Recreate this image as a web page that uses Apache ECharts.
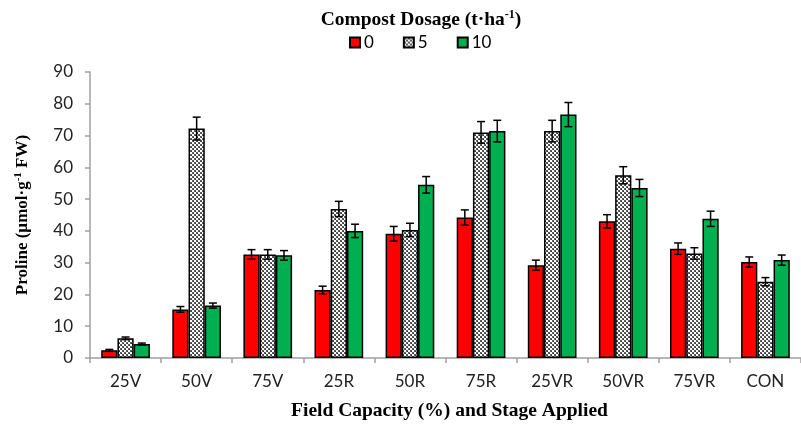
<!DOCTYPE html>
<html><head><meta charset="utf-8">
<script src="https://cdn.jsdelivr.net/npm/echarts@6/dist/echarts.min.js"></script>
<style>html,body{margin:0;padding:0;background:#fff}#c{width:801px;height:426px}</style>
</head><body><div id="c"></div>
<script>
var categories = ['25V','50V','75V','25R','50R','75R','25VR','50VR','75VR','CON'];
var seriesNames = ['0','5','10'];
var dose0  = [2.4, 15.3, 32.6, 21.4, 39.1, 44.2, 29.2, 43.0, 34.4, 30.2];
var dose5  = [6.2, 72.2, 32.6, 46.9, 40.3, 71.0, 71.4, 57.5, 32.9, 24.0];
var dose10 = [4.4, 16.5, 32.3, 40.0, 54.5, 71.4, 76.6, 53.5, 43.8, 30.8];
var err0  = [0.3, 0.9, 1.5, 1.2, 2.3, 2.4, 1.6, 2.1, 1.8, 1.6];
var err5  = [0.4, 3.6, 1.5, 2.4, 2.1, 3.4, 3.4, 2.7, 1.8, 1.3];
var err10 = [0.3, 0.8, 1.5, 2.1, 2.6, 3.4, 3.8, 2.7, 2.4, 1.6];
var yTicks = [0,10,20,30,40,50,60,70,80,90];

var values = [dose0, dose5, dose10];
var errors = [err0, err5, err10];

// hatched (checker) pattern
var pc = document.createElement('canvas');
pc.width = 4; pc.height = 4;
var px = pc.getContext('2d');
px.fillStyle = '#ffffff'; px.fillRect(0,0,4,4);
px.fillStyle = '#5e5e5e';
px.fillRect(0,0,2,2); px.fillRect(2,2,2,2);
px.fillStyle = '#333333';
px.fillRect(1,1,1,1); px.fillRect(3,3,1,1);
var hatch = {image: pc, repeat: 'repeat'};

var colors = ['#ff0000', hatch, '#00b050'];
var CAT_GAP = 0.315;

var chart = echarts.init(document.getElementById('c'), null, {renderer:'canvas'});
var series = [];
for (var s = 0; s < 3; s++) {
  series.push({
    name: seriesNames[s], type: 'bar', data: values[s],
    barGap: '0%', barCategoryGap: (CAT_GAP*100)+'%',
    itemStyle: {color: colors[s], borderColor: '#000', borderWidth: 1.5},
    emphasis: {disabled: true}, z: 2
  });
}
for (var s2 = 0; s2 < 3; s2++) {
  (function(si){
    var d = values[si].map(function(v,i){ return [i, v - errors[si][i], v + errors[si][i]]; });
    series.push({
      name: 'err'+si, type: 'custom', data: d, z: 5,
      renderItem: function(params, api){
        var idx = api.value(0);
        var band = api.size([1,0])[0];
        var bw = band*(1-CAT_GAP)/3;
        var c = api.coord([idx, api.value(2)]);
        var lo = api.coord([idx, api.value(1)]);
        var x = c[0] + (si-1)*bw;
        var cap = 4;
        return {type:'group', children:[
          {type:'line', shape:{x1:x,y1:c[1],x2:x,y2:lo[1]}, style:{stroke:'#000',lineWidth:1.5}},
          {type:'line', shape:{x1:x-cap,y1:c[1],x2:x+cap,y2:c[1]}, style:{stroke:'#000',lineWidth:1.5}},
          {type:'line', shape:{x1:x-cap,y1:lo[1],x2:x+cap,y2:lo[1]}, style:{stroke:'#000',lineWidth:1.5}}
        ]};
      }
    });
  })(s2);
}

var supRich = {s: {fontFamily:'Liberation Serif', fontWeight:'bold', fontSize: 12, verticalAlign:'top', padding:[0,0,9,0], color:'#000'}};
chart.setOption({
  animation: false,
  title: {
    text: 'Compost Dosage (t·ha{s|-1})', left: 416, top: 4, textAlign: 'center',
    textStyle: {fontFamily: 'Liberation Serif', fontWeight: 'bold', fontSize: 19.5, color: '#000', rich: supRich}
  },
  legend: {
    data: seriesNames, left: 344, top: 29, itemWidth: 10, itemHeight: 10, itemGap: 29,
    icon: 'rect',
    textStyle: {fontFamily: 'Lato', fontSize: 17, color: '#000', padding:[0,0,0,-1]}
  },
  grid: {left: 90, top: 72, width: 723, height: 288},
  xAxis: {
    type: 'category', data: categories,
    name: 'Field Capacity (%) and Stage Applied', nameLocation: 'middle', nameGap: 43,
    nameTextStyle: {fontFamily: 'Liberation Serif', fontWeight: 'bold', fontSize: 19.5, color: '#000', padding:[0,0,0,8]},
    axisLine: {lineStyle: {color: '#a0a0a0', width: 1.5}},
    axisTick: {show: true, length: 5, lineStyle: {color: '#a0a0a0', width: 1.5}},
    axisLabel: {fontFamily: 'Lato', fontSize: 17, color: '#222', margin: 15}
  },
  yAxis: {
    type: 'value', min: 0, max: 90, interval: 10,
    name: 'Proline (µmol·g{s|-1} FW)', nameLocation: 'middle', nameGap: 58, nameRotate: 90,
    nameTextStyle: {fontFamily: 'Liberation Serif', fontWeight: 'bold', fontSize: 17, color: '#000',
      rich: {s: {fontFamily:'Liberation Serif', fontWeight:'bold', fontSize: 11, verticalAlign:'top', padding:[0,0,8,0], color:'#000'}}},
    splitLine: {show: false},
    axisLine: {show: true, lineStyle: {color: '#a0a0a0', width: 1.5}},
    axisTick: {show: true, length: 5, lineStyle: {color: '#a0a0a0', width: 1.5}},
    axisLabel: {fontFamily: 'Lato', fontSize: 17, color: '#222', margin: 17,
      formatter: function(v){ return yTicks.indexOf(v) >= 0 ? String(v) : ''; }}
  },
  series: series
});
</script></body></html>
